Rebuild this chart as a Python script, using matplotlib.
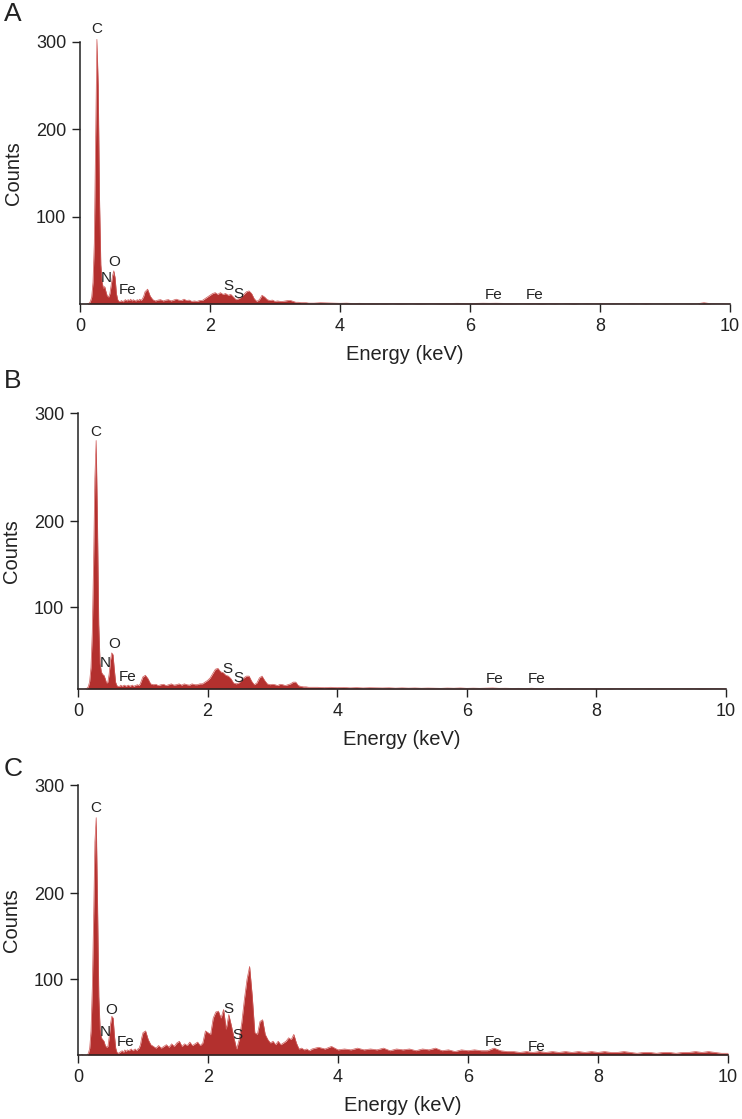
import numpy as np
import matplotlib.pyplot as plt

plt.rcParams['font.family'] = ['Liberation Sans', 'DejaVu Sans']

# channel energies (keV): fine near the light-element peaks, coarser at high energy
E_SEG1 = [0.00, 0.02, 0.04, 0.06, 0.08, 0.10, 0.12, 0.14, 0.16, 0.18,
          0.20, 0.22, 0.24, 0.26, 0.28, 0.30, 0.32, 0.34, 0.36, 0.38,
          0.40, 0.42, 0.44, 0.46, 0.48, 0.50, 0.52, 0.54, 0.56, 0.58,
          0.60, 0.62, 0.64, 0.66, 0.68, 0.70, 0.72, 0.74, 0.76, 0.78,
          0.80, 0.82, 0.84, 0.86, 0.88, 0.90, 0.92, 0.94, 0.96, 0.98,
          1.00]
E_SEG2 = [1.04, 1.08, 1.12, 1.16, 1.20, 1.24, 1.28, 1.32, 1.36, 1.40,
          1.44, 1.48, 1.52, 1.56, 1.60, 1.64, 1.68, 1.72, 1.76, 1.80,
          1.84, 1.88, 1.92, 1.96, 2.00, 2.04, 2.08, 2.12, 2.16, 2.20,
          2.24, 2.28, 2.32, 2.36, 2.40, 2.44, 2.48, 2.52, 2.56, 2.60,
          2.64, 2.68, 2.72, 2.76, 2.80, 2.84, 2.88, 2.92, 2.96, 3.00,
          3.04, 3.08, 3.12, 3.16, 3.20, 3.24, 3.28, 3.32, 3.36, 3.40,
          3.44, 3.48, 3.52, 3.56, 3.60]
E_SEG3 = [3.7, 3.8, 3.9, 4.0, 4.1, 4.2, 4.3, 4.4, 4.5, 4.6,
          4.7, 4.8, 4.9, 5.0, 5.1, 5.2, 5.3, 5.4, 5.5, 5.6,
          5.7, 5.8, 5.9, 6.0, 6.1, 6.2, 6.3, 6.4, 6.5, 6.6,
          6.7, 6.8, 6.9, 7.0, 7.1, 7.2, 7.3, 7.4, 7.5, 7.6,
          7.7, 7.8, 7.9, 8.0, 8.1, 8.2, 8.3, 8.4, 8.5, 8.6,
          8.7, 8.8, 8.9, 9.0, 9.1, 9.2, 9.3, 9.4, 9.5, 9.6,
          9.7, 9.8, 9.9, 10.0]
energy = np.array(E_SEG1 + E_SEG2 + E_SEG3)

counts_a = [
    0, 0, 0, 0, 0, 0, 0.5, 1, 3, 8,
    25, 70, 190, 303, 250, 120, 45, 25, 18, 20,
    14, 9, 8, 12, 22, 32, 38, 30, 12, 5,
    3, 3, 4, 2.5, 4, 5, 3.5, 5, 4, 5.5,
    3.5, 5, 4, 3.5, 5, 4, 5.5, 4, 6, 9,
    14,
    17, 9, 5, 3.5, 4.5, 5, 3.5, 4.5, 5, 3.5,
    4.5, 5.5, 4.5, 4, 5.5, 4, 4.5, 3, 3.5, 3,
    4, 4, 6, 8, 10, 12, 13, 11, 13, 11,
    12, 10, 11, 8, 5, 6, 8, 11, 14, 15,
    12, 6, 3, 5, 10, 8, 5, 4, 4.5, 3,
    3.5, 3, 3, 3.5, 4, 4, 3, 2, 2, 1.5,
    1.5, 1.5, 1, 1, 1,
    1.5, 1.2, 1.0, 0.8, 1.0, 0.6, 0.8, 0.5, 0.7, 0.5,
    0.6, 0.4, 0.6, 0.5, 0.4, 0.6, 0.5, 0.4, 0.5, 0.7,
    0.6, 0.8, 0.7, 0.6, 0.8, 0.9, 0.8, 0.9, 0.7, 0.6,
    0.5, 0.4, 0.5, 0.4, 0.6, 0.4, 0.5, 0.3, 0.4, 0.6,
    0.3, 0.4, 0.3, 0.4, 0.3, 0.4, 0.3, 0.3, 0.4, 0.3,
    0.5, 0.3, 0.3, 0.4, 0.3, 0.3, 0.3, 0.4, 0.3, 1.5,
    0.4, 0.3, 0.3, 0.2]

counts_b = [
    5, 5, 5, 5, 5, 5, 5.5, 6, 8, 14,
    30, 70, 150, 250, 294, 200, 80, 35, 25, 22,
    21, 17, 12, 13, 22, 38, 47, 45, 28, 13,
    9, 8, 8, 9.5, 8, 9, 9.5, 8, 9, 9.5,
    8, 9, 9.5, 8, 9, 9.5, 10, 9, 11, 15,
    19,
    21, 17, 11, 10, 10.5, 9, 10, 10.5, 9, 10,
    11, 9.5, 10, 11, 9.5, 11, 10, 9.5, 11, 10,
    10, 11, 11, 13, 15, 18, 23, 28, 29, 25,
    24, 21, 20, 17, 12, 11, 12, 15, 18, 20,
    20, 14, 10, 12, 18, 20, 15, 11, 10, 10.5,
    10, 9, 10.5, 10, 9, 10, 11, 13, 13, 9,
    8, 7.5, 7.5, 7, 7,
    7, 6.5, 7, 6.5, 6.8, 6.3, 6.6, 6.2, 6.5, 6.3,
    6.2, 6.4, 6.0, 6.3, 6.0, 6.2, 5.9, 6.1, 6.0, 5.8,
    6.1, 5.9, 6.2, 5.8, 6.0, 5.8, 6.0, 6.2, 5.8, 5.9,
    5.7, 5.8, 5.6, 5.9, 5.6, 5.7, 5.6, 5.8, 5.5, 5.7,
    5.5, 5.6, 5.5, 5.6, 5.5, 5.6, 5.4, 5.5, 5.4, 5.5,
    5.4, 5.5, 5.4, 5.5, 5.4, 5.5, 5.4, 5.5, 5.4, 5.6,
    5.5, 5.4, 5.4, 5.3]

counts_c = [
    12, 12, 12, 12.5, 12, 12, 12, 12, 14, 20,
    40, 90, 170, 260, 288, 190, 80, 42, 32, 30,
    28, 23, 21, 22, 33, 48, 57, 55, 35, 20,
    15, 14, 15, 16, 17, 15, 18, 16, 18, 17,
    18, 19, 17, 18, 19, 17, 19, 20, 24, 32,
    38,
    40, 30, 24, 22, 20, 23, 20, 22, 24, 21,
    25, 22, 26, 28, 22, 25, 23, 27, 23, 25,
    27, 23, 26, 40, 38, 36, 55, 62, 63, 55,
    65, 42, 59, 46, 32, 19, 30, 50, 77, 100,
    115, 81, 38, 36, 51, 53, 36, 30, 26, 28,
    24, 28, 24, 26, 28, 32, 30, 36, 26, 19,
    20, 18, 19, 17, 19,
    21, 19, 22, 18, 19, 18, 20, 18, 19, 18,
    20, 17, 19, 18, 19, 17, 19, 18, 20, 17,
    18, 16, 18, 17, 18, 17, 17, 20, 17, 16,
    16, 15, 16, 15, 16, 15, 16, 15, 16, 15,
    16, 15, 16, 15, 16, 15, 15, 16, 15, 14,
    15, 15, 14, 15, 15, 14, 15, 15, 16, 15,
    16, 15, 14, 14]

# element labels: (text, energy, counts)
labels_a = [('C', 0.26, 315), ('N', 0.40, 30), ('O', 0.53, 48), ('Fe', 0.73, 16),
            ('S', 2.28, 21), ('S', 2.44, 12), ('Fe', 6.37, 10), ('Fe', 7.0, 10)]
labels_b = [('C', 0.27, 304), ('N', 0.42, 35), ('O', 0.56, 57), ('Fe', 0.76, 19),
            ('S', 2.31, 28), ('S', 2.47, 18), ('Fe', 6.43, 17), ('Fe', 7.07, 17)]
labels_c = [('C', 0.27, 299), ('N', 0.42, 39), ('O', 0.51, 64), ('Fe', 0.73, 27),
            ('S', 2.32, 66), ('S', 2.45, 35), ('Fe', 6.4, 27), ('Fe', 7.06, 21)]

W, H = 742, 1119
FILL = '#b3302e'
EDGE = '#cf5a58'
INK = '#222222'

# (letter, counts, labels, left px, right px, top px, bottom px, ymin, ytop, letter y px)
panels = [
    ('A', counts_a, labels_a, 80, 730, 42, 304, 0, 300, 14),
    ('B', counts_b, labels_b, 78, 726, 413, 689, 5, 326, 381),
    ('C', counts_c, labels_c, 78, 728, 785, 1055, 12, 326, 769),
]

fig = plt.figure(figsize=(W / 100, H / 100), dpi=100)

for letter, counts, labels, l, r, t, b, ymin, ytop, ly in panels:
    counts = np.array(counts)
    ax = fig.add_axes([l / W, 1 - b / H, (r - l) / W, (b - t) / H])
    ax.fill_between(energy, ymin, counts, color=FILL, lw=0, clip_on=False)
    ax.plot(energy, counts, color=EDGE, lw=0.5, clip_on=False)
    ax.set_xlim(0, 10)
    ax.set_ylim(ymin, ytop)

    for s in ['top', 'right']:
        ax.spines[s].set_visible(False)
    for s in ['left', 'bottom']:
        ax.spines[s].set_linewidth(1.1)
        ax.spines[s].set_color(INK)
    ax.spines['bottom'].set_zorder(5)

    ax.set_xticks([0, 2, 4, 6, 8, 10])
    ax.set_yticks([100, 200, ytop])
    ax.set_yticklabels(['100', '200', '300'])
    ax.tick_params(direction='out', length=6, width=1.0, colors=INK,
                   labelsize=13, pad=4)

    h = b - t
    ax.set_xlabel('Energy (keV)', fontsize=14.5, color=INK)
    ax.xaxis.set_label_coords(0.5, -41 / h)
    ax.set_ylabel('Counts', fontsize=14.5, color=INK)
    ax.yaxis.set_label_coords(-0.088, 0.5)

    for txt, x, y in labels:
        ax.text(x, y, txt, fontsize=11, color=INK, ha='center', va='center')

    fig.text(4 / W, 1 - ly / H, letter, fontsize=19, color=INK, va='center', ha='left')

fig.savefig('out.png', dpi=100)
